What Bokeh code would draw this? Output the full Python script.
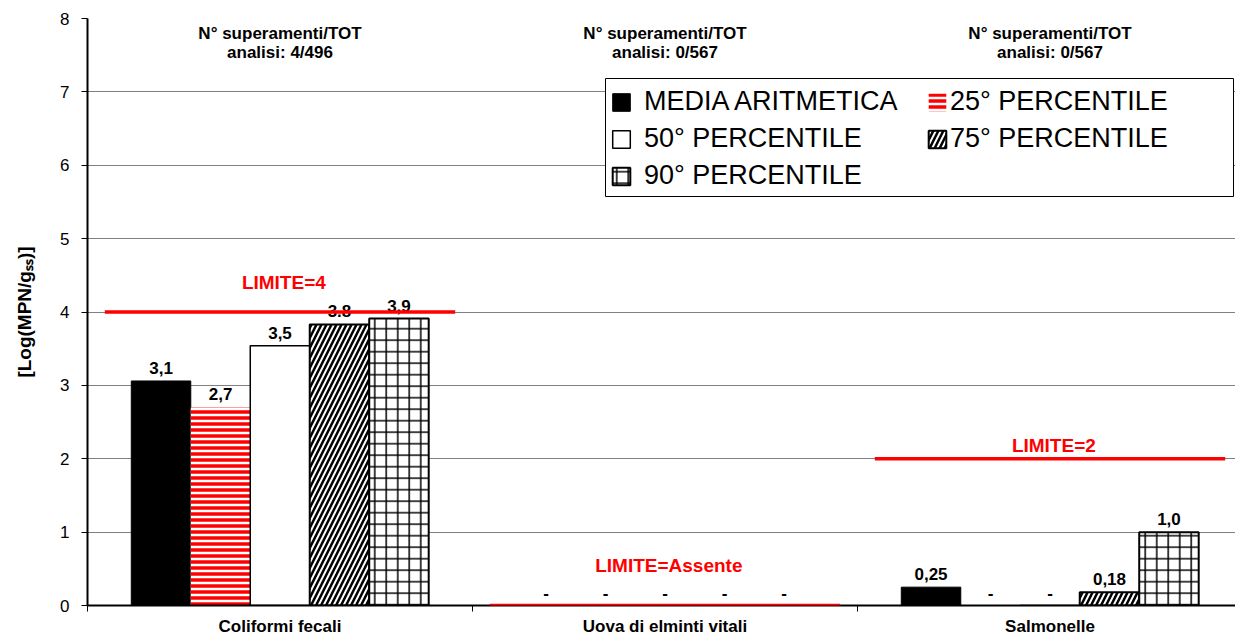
from bokeh.plotting import figure
from bokeh.models import (ColumnDataSource, FixedTicker, Range1d, Legend, LegendItem,
                          BoxAnnotation, Arrow)
from bokeh.core.properties import value
from bokeh.embed import file_html
from bokeh.resources import INLINE

# ---------------- data ----------------
categories = ["Coliformi fecali", "Uova di elminti vitali", "Salmonelle"]
series_names = ["MEDIA ARITMETICA", "25° PERCENTILE", "50° PERCENTILE",
                "75° PERCENTILE", "90° PERCENTILE"]
media = [3.06, 0.0, 0.25]
p25 = [2.70, 0.0, 0.0]
p50 = [3.54, 0.0, 0.0]
p75 = [3.83, 0.0, 0.18]
p90 = [3.91, 0.0, 1.0]
media_labels = ["3,1", "-", "0,25"]
p25_labels = ["2,7", "-", "-"]
p50_labels = ["3,5", "-", "-"]
p75_labels = ["3.8", "-", "0,18"]
p90_labels = ["3,9", "-", "1,0"]
limits = [4, 0, 2]
limit_labels = ["LIMITE=4", "LIMITE=Assente", "LIMITE=2"]
exceed_line1 = ["N° superamenti/TOT", "N° superamenti/TOT", "N° superamenti/TOT"]
exceed_line2 = ["analisi: 4/496", "analisi: 0/567", "analisi: 0/567"]
y_ticks = [0, 1, 2, 3, 4, 5, 6, 7, 8]
y_title = "[Log(MPN/g\u209b\u209b)]"

series_values = [media, p25, p50, p75, p90]
series_labels = [media_labels, p25_labels, p50_labels, p75_labels, p90_labels]

# ---------------- layout / style ----------------
W, H = 1235, 638
LEFT, TOP, BOTTOM = 87, 18, 33
CAT_PX = 385.0
X_END = (W - LEFT) / CAT_PX
BAR_W = 0.1545
FONT = "Liberation Sans"
PX_PER_UNIT = (H - TOP - BOTTOM) / 8

p = figure(width=W, height=H, output_backend="svg", toolbar_location=None,
           x_range=Range1d(0, X_END), y_range=Range1d(0, 8),
           min_border_left=LEFT, min_border_top=TOP, min_border_bottom=BOTTOM,
           min_border_right=0)
p.outline_line_color = None
p.background_fill_color = "white"
p.border_fill_color = "white"

# axes
p.yaxis.ticker = FixedTicker(ticks=y_ticks)
p.yaxis.major_tick_out = 6
p.yaxis.major_tick_in = 0
p.yaxis.minor_tick_line_color = None
p.yaxis.axis_line_color = "black"
p.yaxis.axis_line_width = 2
p.yaxis.major_tick_line_color = "black"
p.yaxis.major_label_text_font = FONT
p.yaxis.major_label_text_font_size = "17px"
p.yaxis.major_label_text_color = "black"
p.yaxis.major_label_standoff = 12
p.yaxis.axis_label = y_title
p.yaxis.axis_label_text_font = FONT
p.yaxis.axis_label_text_font_size = "19px"
p.yaxis.axis_label_text_font_style = "bold"
p.yaxis.axis_label_text_color = "black"
p.yaxis.axis_label_standoff = 22

centers = [i + 0.5 for i in range(len(categories))]
bounds = [i for i in range(len(categories) + 1)]
p.xaxis.ticker = FixedTicker(ticks=centers, minor_ticks=bounds)
p.xaxis.major_label_overrides = {c: name for c, name in zip(centers, categories)}
p.xaxis.major_tick_out = 0
p.xaxis.major_tick_in = 0
p.xaxis.minor_tick_out = 6
p.xaxis.minor_tick_in = 0
p.xaxis.minor_tick_line_color = "black"
p.xaxis.axis_line_color = "black"
p.xaxis.axis_line_width = 2
p.xaxis.major_label_text_font = FONT
p.xaxis.major_label_text_font_size = "17px"
p.xaxis.major_label_text_font_style = "bold"
p.xaxis.major_label_text_color = "black"
p.xaxis.major_label_standoff = 5

p.xgrid.grid_line_color = None
p.ygrid.ticker = FixedTicker(ticks=y_ticks)
p.ygrid.grid_line_color = "#808080"
p.ygrid.grid_line_width = 1

# bars
styles = [
    dict(fill_color="black", line_color="black", line_width=1),
    dict(fill_color="white", line_color=None, hatch_pattern="horizontal_line",
         hatch_color="#ff0000", hatch_scale=6, hatch_weight=3.5),
    dict(fill_color="white", line_color="black", line_width=1.5),
    dict(fill_color="white", line_color="black", line_width=2,
         hatch_pattern="right_diagonal_line", hatch_color="black",
         hatch_scale=10, hatch_weight=2.5),
    dict(fill_color="white", line_color="black", line_width=2,
         hatch_pattern="cross", hatch_color="black",
         hatch_scale=11.5, hatch_weight=1.5),
]
renderers = []
for k, (vals, labs) in enumerate(zip(series_values, series_labels)):
    off = (k - 2) * BAR_W
    src = ColumnDataSource(dict(x=[c + off for c in centers], top=vals, lab=labs))
    r = p.vbar(x="x", top="top", bottom=0, width=BAR_W, source=src, **styles[k])
    renderers.append(r)
    p.text(x="x", y="top", text="lab", source=src, text_align="center",
           text_baseline="alphabetic", y_offset=-13, text_font=value(FONT),
           text_font_size="17px", text_font_style="bold", text_color="black")

# limit lines and labels
for i, lim in enumerate(limits):
    p.add_layout(Arrow(x_start=i + 0.045, x_end=i + 0.955, y_start=lim, y_end=lim,
                       end=None, start=None, line_color="#ff0000", line_width=3.5))
lim_src = ColumnDataSource(dict(x=[c + 0.01 for c in centers],
                                y=limits, t=limit_labels, dy=[-30, -40, -13]))
p.text(x="x", y="y", text="t", source=lim_src, text_align="center",
       text_baseline="middle", y_offset="dy", text_font=value(FONT),
       text_font_size="19px", text_font_style="bold", text_color="#ff0000")

# exceedance notes
ex_src = ColumnDataSource(dict(x=centers, y1=[7.8] * 3, y2=[7.54] * 3,
                               t1=exceed_line1, t2=exceed_line2))
for yk, tk in (("y1", "t1"), ("y2", "t2")):
    p.text(x="x", y=yk, text=tk, source=ex_src, text_align="center",
           text_baseline="middle", text_font=value(FONT), text_font_size="17px",
           text_font_style="bold", text_color="black")

# legend box and two legend columns
p.add_layout(BoxAnnotation(left=(605 - LEFT) / CAT_PX, right=(1233 - LEFT) / CAT_PX,
                           top=8 - (78 - TOP) / PX_PER_UNIT,
                           bottom=8 - (196 - TOP) / PX_PER_UNIT,
                           fill_color="white", fill_alpha=1, line_color="black",
                           line_width=1, line_alpha=1))
leg_common = dict(orientation="vertical", glyph_width=22, glyph_height=22,
                  label_text_font=FONT, label_text_font_size="27px",
                  label_text_color="black", label_height=31, spacing=6,
                  padding=6, margin=0, border_line_color=None,
                  background_fill_alpha=0)
leg1 = Legend(items=[LegendItem(label=series_names[k], renderers=[renderers[k]]) for k in (0, 2, 4)],
              location=(523, 414), label_standoff=12, **leg_common)
leg2 = Legend(items=[LegendItem(label=series_names[k], renderers=[renderers[k]]) for k in (1, 3)],
              location=(839, 451), label_standoff=2, **leg_common)
p.add_layout(leg1, "center")
p.add_layout(leg2, "center")

open("out.html", "w").write(file_html(p, INLINE))
